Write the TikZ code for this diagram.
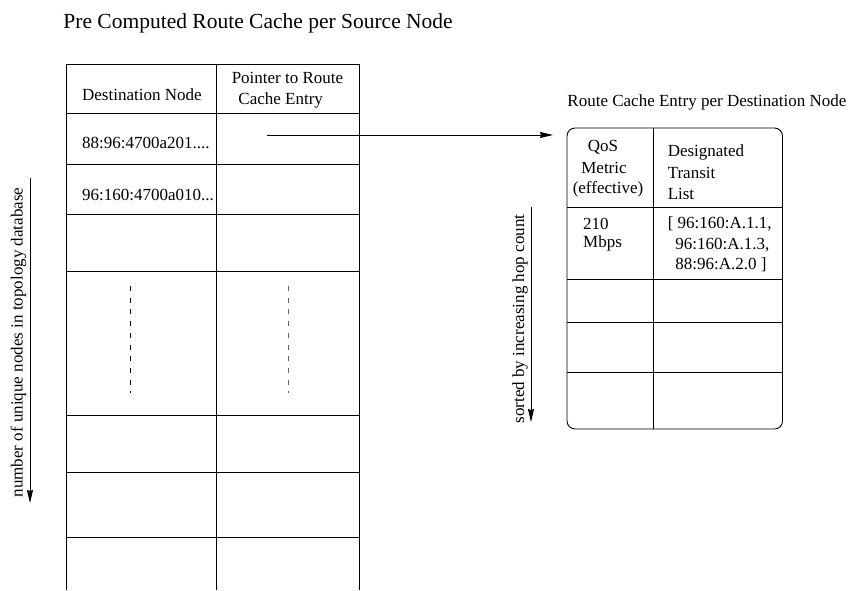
\documentclass[tikz,border=0pt]{standalone}
\usepackage{fontspec}
\setmainfont{Liberation Serif}
\usetikzlibrary{arrows.meta}
\begin{document}
\begin{tikzpicture}[x=1pt,y=-1pt,line width=0.9pt,
  txt/.style={inner sep=0pt,font=\fontsize{17}{20}\selectfont},
  lbl/.style={txt,anchor=base west},
  ctr/.style={txt,anchor=base},
  gridline/.style={line width=0.9pt},
  dots/.style={line width=0.9pt,dash pattern=on 5pt off 6.7pt},
  arr/.style={-{Stealth[length=13pt,width=6pt,inset=1pt]},line width=0.9pt}]
\useasboundingbox (0,0) rectangle (853,590);

% titles
\node[anchor=base west,inner sep=0pt,font=\fontsize{21.5}{26}\selectfont] (title) at (63,28.3) {Pre Computed Route Cache per Source Node};
\node[lbl] (rtitle) at (567,106.7) {Route Cache Entry per Destination Node};

% left table
\draw[gridline] (66,590) -- (66,64) -- (359,64) -- (359,590);
\draw[gridline] (216.5,64) -- (216.5,590);
\foreach \yy in {113,164,214,271,415,472,537}
  \draw[gridline] (66,\yy) -- (359,\yy);
\node[lbl] (hdest) at (81.7,100) {Destination Node};
\node[ctr] (hptr1) at (287.5,83.3) {Pointer to Route};
\node[lbl] (hptr2) at (238,104.3) {Cache Entry};
\node[lbl] (d1) at (81.7,148.3) {88:96:4700a201....};
\node[lbl] (d2) at (81.7,200) {96:160:4700a010...};
\draw[dots] (130,286) -- (130,393);
\draw[dots,black!60] (288,286) -- (288,393);

% pointer arrow
\coordinate (ptr) at (266.7,135);
\coordinate (entry) at (553,135);
\draw[arr] (ptr) -- (entry);

% right table
\draw[gridline,rounded corners=8pt] (567,128) rectangle (782.5,429);
\draw[gridline] (653,128) -- (653,429);
\foreach \yy in {207,279,322,372}
  \draw[gridline] (567,\yy) -- (782.5,\yy);
\node[ctr] (q1) at (603,151.7) {QoS};
\node[ctr] (q2) at (604,173.3) {Metric};
\node[ctr] (q3) at (608,193) {(effective)};
\node[lbl] (t1) at (667.3,156.7) {Designated};
\node[lbl] (t2) at (667.3,178) {Transit};
\node[lbl] (t3) at (667.3,199) {List};
\node[lbl] (m1) at (582.7,229.5) {210};
\node[lbl] (m2) at (582.7,247.5) {Mbps};
\node[lbl] (l1) at (667.3,228.3) {[ 96:160:A.1.1,};
\node[lbl] (l2) at (675,249) {96:160:A.1.3,};
\node[lbl] (l3) at (675,269) {88:96:A.2.0 ]};

% side arrows
\coordinate (la1) at (30,178);
\coordinate (la2) at (30,503);
\draw[arr] (la1) -- (la2);
\node[txt,anchor=base,rotate=90] (lside) at (22.5,342.5) {number of unique nodes in topology database};
\coordinate (ra1) at (531,207);
\coordinate (ra2) at (531,422);
\draw[arr] (ra1) -- (ra2);
\node[txt,anchor=base,rotate=90] (rside) at (524,319) {sorted by increasing hop count};
\end{tikzpicture}
\end{document}
